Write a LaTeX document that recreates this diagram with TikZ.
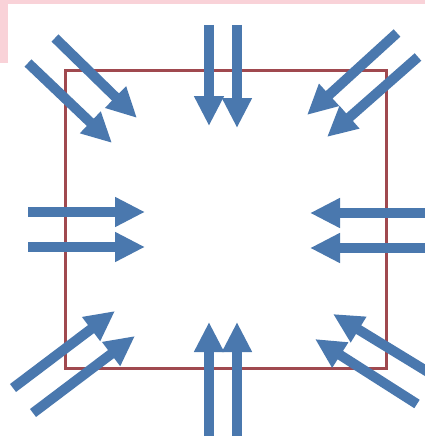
\documentclass[tikz,border=0pt]{standalone}
\usetikzlibrary{arrows.meta}
\definecolor{pinkbg}{HTML}{F9D2D8}
\definecolor{boxred}{HTML}{A0494F}
\definecolor{arrowblue}{HTML}{4A78AE}
\tikzset{
  inarrow/.style={draw=arrowblue, line width=10pt, -{Triangle[length=30pt,width=28pt]}},
  frame/.style={draw=boxred, line width=3pt}
}
\begin{document}
\begin{tikzpicture}[x=1pt,y=-1pt]
\useasboundingbox (0,0) rectangle (425,436);
\fill[white] (0,0) rectangle (425,436);
% pink background strips
\fill[pinkbg] (0,0) rectangle (425,4);
\fill[pinkbg] (0,0) rectangle (8,63);
% frame
\draw[frame] (65,70) rectangle (386,368);
% top
\draw[inarrow] (209,25) -- (209,126);
\draw[inarrow] (237,25) -- (237,128);
% bottom
\draw[inarrow] (209,436) -- (209,322);
\draw[inarrow] (237,436) -- (237,322);
% left
\draw[inarrow] (28,212) -- (145,212);
\draw[inarrow] (28,247) -- (145,247);
% right
\draw[inarrow] (425,213) -- (310,213);
\draw[inarrow] (425,248) -- (310,248);
% top-left
\draw[inarrow] (55,38) -- (137,118);
\draw[inarrow] (28,63) -- (112,143);
% top-right
\draw[inarrow] (397,33) -- (307,115);
\draw[inarrow] (418,57) -- (327,137);
% bottom-left
\draw[inarrow] (13,388) -- (115,311);
\draw[inarrow] (33,413) -- (135,336);
% bottom-right
\draw[inarrow] (428,372) -- (333,314);
\draw[inarrow] (417,404) -- (315,339);
\end{tikzpicture}
\end{document}
